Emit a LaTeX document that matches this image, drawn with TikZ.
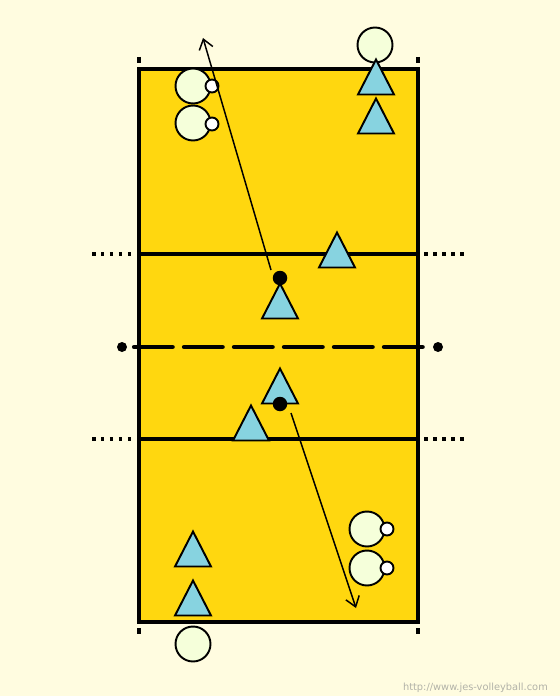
\documentclass[tikz,border=0pt]{standalone}
\usepackage{fontspec}
\newfontfamily\urlfont{DejaVu Sans}
\usetikzlibrary{shapes.geometric,arrows.meta}
\definecolor{cream}{RGB}{255,252,224}
\definecolor{courtgold}{RGB}{255,215,15}
\definecolor{blockblue}{RGB}{135,211,224}
\definecolor{palegreen}{RGB}{245,255,218}
\definecolor{urlgray}{RGB}{178,178,168}
\begin{document}
\begin{tikzpicture}[x=0.02cm,y=-0.02cm,
 >={Straight Barb[length=5.5pt,width=8pt]},
 court/.style={draw=black,line width=2.2pt,fill=courtgold},
 outline/.style={dash pattern=on 0.07cm off 0.11cm,line width=2pt},
 netline/.style={line width=2.8pt,line cap=round,dash pattern=on 0.76cm off 0.24cm},
 blocker/.style={isosceles triangle,isosceles triangle stretches,
  shape border rotate=90,draw=black,line width=1.1pt,fill=blockblue,
  minimum width=0.72cm,minimum height=0.7cm,inner sep=0pt,anchor=apex},
 player/.style={circle,draw=black,line width=1.1pt,fill=palegreen,
  minimum size=0.7cm,inner sep=0pt},
 hand/.style={circle,draw=black,line width=1.1pt,fill=white,
  minimum size=0.26cm,inner sep=0pt},
 ball/.style={circle,fill=black,minimum size=0.29cm,inner sep=0pt},
 post/.style={circle,fill=black,minimum size=0.2cm,inner sep=0pt},
 path/.style={->,line width=0.85pt}]
 \fill[cream] (0,0) rectangle (560,696);
 \useasboundingbox (0,0) rectangle (560,696);
 % court and lines
 \draw[court] (139,69) rectangle (418,622);
 \draw[line width=2pt] (139,254) -- (418,254);
 \draw[line width=2pt] (139,439) -- (418,439);
 \draw[outline] (92,254) -- (134,254);
 \draw[outline] (424,254) -- (466,254);
 \draw[outline] (92,439) -- (134,439);
 \draw[outline] (424,439) -- (466,439);
 \foreach \x/\y in {139/60,418/60,139/631,418/631}
  \draw[line width=2pt] (\x,\y-3) -- (\x,\y+3);
 % net
 \node[post] (postl) at (122,347) {};
 \node[post] (postr) at (438,347) {};
 \draw[netline,shorten <=0.14cm,shorten >=0.2cm] (postl) -- (postr);
 % top side
 \node[player] (p1) at (375,45) {};
 \node[blocker] (b1) at (376,57) {};
 \node[blocker] (b2) at (376,96) {};
 \node[player] (p2) at (193,86) {};
 \node[hand] (h2) at (212,86) {};
 \node[player] (p3) at (193,123) {};
 \node[hand] (h3) at (212,124) {};
 \node[blocker] (b3) at (337,230) {};
 \node[blocker] (b4) at (280,281) {};
 \node[ball] (ball1) at (280,278) {};
 % bottom side
 \node[blocker] (b5) at (280,366) {};
 \node[blocker] (b6) at (251,403) {};
 \node[ball] (ball2) at (280,404) {};
 \node[player] (p4) at (367,529) {};
 \node[hand] (h4) at (387,529) {};
 \node[player] (p5) at (367,568) {};
 \node[hand] (h5) at (387,568) {};
 \node[blocker] (b7) at (193,529) {};
 \node[blocker] (b8) at (193,578) {};
 \node[player] (p6) at (193,644) {};
 % attacks
 \coordinate (start1) at (271,270);
 \coordinate (end1) at (203,38);
 \coordinate (start2) at (291,413);
 \coordinate (end2) at (356,608);
 \draw[path] (start1) -- (end1);
 \draw[path] (start2) -- (end2);
 \node[font=\urlfont\fontsize{5.6}{6}\selectfont,text=urlgray,anchor=east]
  (url) at (554,688) {http://www.jes-volleyball.com};
\end{tikzpicture}
\end{document}
